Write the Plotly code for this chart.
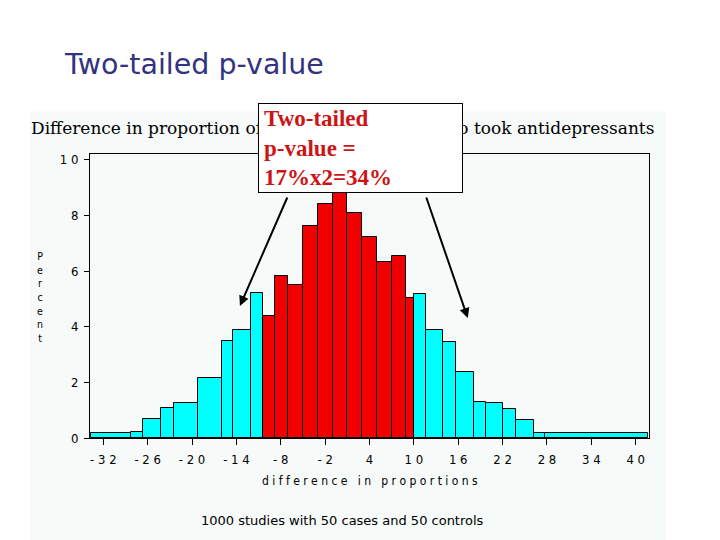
import plotly.graph_objects as go

# ---- data ----
bin_edges = [-33.7, -28.2, -26.6, -24.2, -22.5, -19.2, -15.9, -14.5, -12.0, -10.4,
             -8.8, -7.0, -5.0, -3.0, -1.0, 1.0, 3.0, 5.0, 7.0, 9.0,
             10.0, 11.6, 14.0, 15.7, 18.1, 19.7, 22.1, 23.8, 26.2, 27.8, 41.6]
percent = [0.18, 0.22, 0.67, 1.09, 1.27, 2.14, 3.47, 3.90, 5.20,
           4.39, 5.83, 5.49, 7.63, 8.41, 9.20, 8.09, 7.22, 6.32, 6.55, 5.02,
           5.17, 3.87, 3.44, 2.36, 1.30, 1.27, 1.06, 0.63, 0.19, 0.19]
in_middle = [False] * 9 + [True] * 11 + [False] * 10
x_tickvals = [-32, -26, -20, -14, -8, -2, 4, 10, 16, 22, 28, 34, 40]
x_ticktext = ["- 3 2", "- 2 6", "- 2 0", "- 1 4", "- 8", "- 2", "4", "1 0", "1 6", "2 2", "2 8", "3 4", "4 0"]
y_tickvals = [0, 2, 4, 6, 8, 10]
y_ticktext = ["0", "2", "4", "6", "8", "1 0"]

centers = [(a + b) / 2 for a, b in zip(bin_edges[:-1], bin_edges[1:])]
widths = [b - a for a, b in zip(bin_edges[:-1], bin_edges[1:])]
colors = ["rgb(240,0,0)" if m else "rgb(0,255,255)" for m in in_middle]

BG = "#f6faf8"
OFF = 8  # page body margin
W, H = 720 - OFF, 540 - OFF
L, R, T, B = 90, 649.3, 154.3, 437.7  # plot area in window pixels


def fx(px):
    return (px - L) / (R - L)


def fy(py):
    return (B - py) / (B - T)


fig = go.Figure(go.Bar(
    x=centers, y=percent, width=widths,
    marker=dict(color=colors, line=dict(color="black", width=1)),
    hoverinfo="skip",
))

tick_font = dict(family="Liberation Sans Narrow, DejaVu Sans Condensed, sans-serif", size=13, color="black")

fig.update_layout(
    width=W, height=H, autosize=False,
    margin=dict(l=L - OFF, r=W - (R - OFF), t=T - OFF, b=H - (B - OFF), pad=0),
    paper_bgcolor="white", plot_bgcolor=BG,
    showlegend=False, bargap=0,
    xaxis=dict(range=[-33.8, 41.8], tickvals=x_tickvals, ticktext=x_ticktext,
               showline=True, linecolor="black", linewidth=1, mirror=True,
               ticks="outside", ticklen=6, tickcolor="black",
               showgrid=False, zeroline=False, tickfont=tick_font, ticklabelstandoff=3),
    yaxis=dict(range=[0, 10.21], tickvals=y_tickvals, ticktext=y_ticktext,
               showline=True, linecolor="black", linewidth=1, mirror=True,
               ticks="outside", ticklen=5, tickcolor="black",
               showgrid=False, zeroline=False, tickfont=tick_font, ticklabelstandoff=3),
)

shapes = [
    dict(type="rect", xref="paper", yref="paper", x0=fx(30), x1=fx(666), y0=fy(548), y1=fy(112),
         fillcolor=BG, line=dict(width=0), layer="below"),
]
fig.update_layout(shapes=shapes)

ann = []
ann.append(dict(xref="paper", yref="paper", x=fx(62), y=fy(65), xanchor="left", yanchor="middle",
                text="Two-tailed p-value", showarrow=False,
                font=dict(family="DejaVu Sans", size=28.5, color="#333380")))
ann.append(dict(xref="paper", yref="paper", x=fx(343), y=fy(128), xanchor="center", yanchor="middle",
                text="Difference in proportion of cases and controls who took antidepressants",
                showarrow=False, font=dict(family="DejaVu Serif, serif", size=17, color="black")))
ann.append(dict(xref="paper", yref="paper", x=fx(40), y=fy(297), xanchor="center", yanchor="middle",
                text="<br>".join(list("Percent")), showarrow=False,
                font=dict(family="Liberation Sans Narrow, DejaVu Sans Condensed, sans-serif", size=10.5, color="black")))
ann.append(dict(xref="paper", yref="paper", x=fx(370), y=fy(481), xanchor="center", yanchor="middle",
                text="d i f f e r e n c e &nbsp; i n &nbsp; p r o p o r t i o n s", showarrow=False,
                font=dict(family="Liberation Sans Narrow, DejaVu Sans Condensed, sans-serif", size=12, color="black")))
ann.append(dict(xref="paper", yref="paper", x=fx(343), y=fy(520), xanchor="center", yanchor="middle",
                text="1000 studies with 50 cases and 50 controls", showarrow=False,
                font=dict(family="DejaVu Sans", size=13, color="black")))
# callout box (drawn over the chart title)
ann.append(dict(xref="paper", yref="paper", x=fx(258), y=fy(148), xanchor="left", yanchor="middle",
                text="<b>Two-tailed<br>p-value =<br>17%x2=34%</b>", showarrow=False, align="left",
                width=193, height=78, borderpad=5, bgcolor="white", bordercolor="black", borderwidth=1,
                font=dict(family="Liberation Serif, serif", size=23, color="rgb(205,20,20)")))
# arrows
ann.append(dict(xref="paper", yref="paper", x=fx(240), y=fy(306), ax=288 - 240, ay=196 - 306,
                text="", showarrow=True, arrowhead=2, arrowsize=1, arrowwidth=2, arrowcolor="black"))
ann.append(dict(xref="paper", yref="paper", x=fx(468), y=fy(318), ax=426 - 468, ay=196 - 318,
                text="", showarrow=True, arrowhead=2, arrowsize=1, arrowwidth=2, arrowcolor="black"))
fig.update_layout(annotations=ann)

fig.write_html("out.html")
